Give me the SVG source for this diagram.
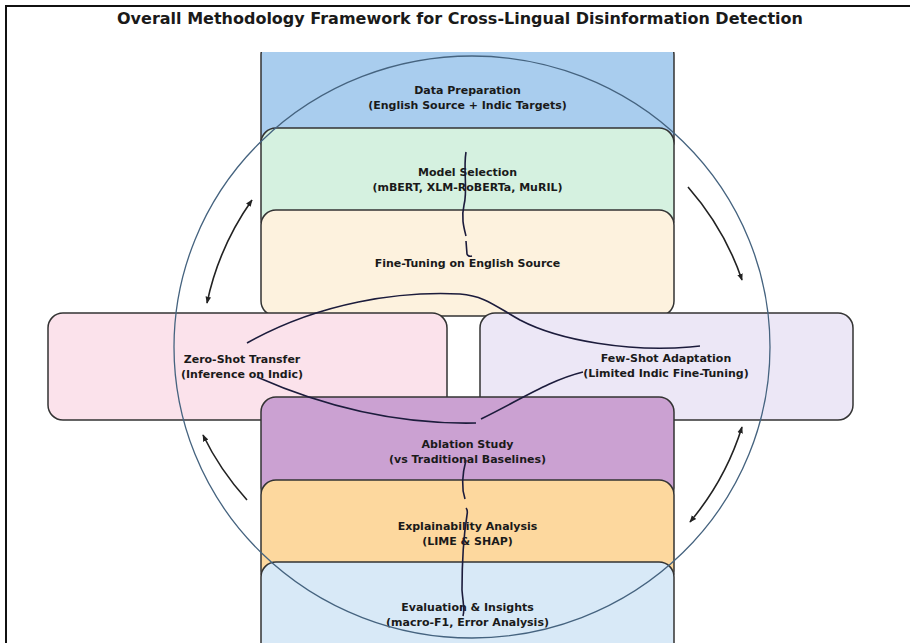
<svg xmlns="http://www.w3.org/2000/svg" width="910" height="643" viewBox="0 0 910 643">
<defs>
<style>
.box{stroke:#333;stroke-width:1.5}
.lbl{font-family:"DejaVu Sans","Liberation Sans",sans-serif;font-weight:bold;font-size:11px;fill:#1a1a1a;text-anchor:middle}
.title{font-family:"DejaVu Sans","Liberation Sans",sans-serif;font-weight:bold;font-size:16px;fill:#1a1a1a;text-anchor:middle}
.con{fill:none;stroke:#1c1c3c;stroke-width:1.6}
.arr{fill:none;stroke:#222;stroke-width:1.6}
</style>
<clipPath id="plot"><rect x="0" y="52" width="910" height="591"/></clipPath>
<marker id="ah" viewBox="0 0 10 10" refX="9" refY="5" markerWidth="7" markerHeight="7" orient="auto-start-reverse" markerUnits="userSpaceOnUse">
<path d="M0,1 L10,5 L0,9 Z" fill="#222"/>
</marker>
</defs>
<rect width="910" height="643" fill="#fff"/>
<path d="M6,643 L6,6 L910,6" fill="none" stroke="#111" stroke-width="2"/>
<text class="title" x="460" y="24">Overall Methodology Framework for Cross-Lingual Disinformation Detection</text>
<g clip-path="url(#plot)">
<g id="data-prep"><rect class="box" x="261" y="40" width="413" height="116" rx="15" fill="#a9cdee"/>
<text class="lbl" x="467.5" y="94">Data Preparation</text><text class="lbl" x="467.5" y="109">(English Source + Indic Targets)</text></g>
<g id="model-selection"><rect class="box" x="261" y="128" width="413" height="106" rx="15" fill="#d5f1e0"/>
<text class="lbl" x="467.5" y="176">Model Selection</text><text class="lbl" x="467.5" y="191">(mBERT, XLM-RoBERTa, MuRIL)</text></g>
<g id="fine-tuning"><rect class="box" x="261" y="210" width="413" height="106" rx="15" fill="#fdf2de"/>
<text class="lbl" x="467.5" y="267">Fine-Tuning on English Source</text></g>
<g id="zero-shot"><rect class="box" x="48" y="313" width="399" height="107" rx="15" fill="#fbe2eb"/>
<text class="lbl" x="242" y="363">Zero-Shot Transfer</text><text class="lbl" x="242" y="378">(Inference on Indic)</text></g>
<g id="few-shot"><rect class="box" x="480" y="313" width="373" height="107" rx="15" fill="#ece7f6"/>
<text class="lbl" x="666" y="362">Few-Shot Adaptation</text><text class="lbl" x="666" y="377">(Limited Indic Fine-Tuning)</text></g>
<g id="ablation"><rect class="box" x="261" y="397" width="413" height="106" rx="15" fill="#cba1d2"/>
<text class="lbl" x="467.5" y="448">Ablation Study</text><text class="lbl" x="467.5" y="463">(vs Traditional Baselines)</text></g>
<g id="explainability"><rect class="box" x="261" y="480" width="413" height="106" rx="15" fill="#fdd89e"/>
<text class="lbl" x="467.5" y="530">Explainability Analysis</text><text class="lbl" x="467.5" y="545">(LIME &amp; SHAP)</text></g>
<g id="evaluation"><rect class="box" x="261" y="562" width="413" height="106" rx="15" fill="#d8e9f7"/>
<text class="lbl" x="467.5" y="611">Evaluation &amp; Insights</text><text class="lbl" x="467.5" y="626">(macro-F1, Error Analysis)</text></g>
<g id="connectors">
<path class="con" d="M466,152 C 463,170 468,190 464,205 C 461,218 464,228 466,236"/>
<path class="con" d="M466,241 L467,254 Q468,257 472,256"/>
<path class="con" d="M247,343 C 320,302 400,291 460,294 C 485,296 495,306 520,320 C 560,341 630,352 690,347 L700,346"/>
<path class="con" d="M257,377 C 300,396 380,425 476,423"/>
<path class="con" d="M481,419 C 520,400 550,380 583,372"/>
<path class="con" d="M466,460 C 462,475 462,490 465,499"/>
<path class="con" d="M466,508 Q468,510 467,515 C 463,540 462,570 462,590 C 463,603 465,610 463,616"/>
</g>
<ellipse cx="472" cy="347" rx="298" ry="291" fill="none" stroke="#45637f" stroke-width="1.3"/>
<g id="cycle-arrows">
<path class="arr" d="M207,303 Q218.7,247.2 252,200" marker-start="url(#ah)" marker-end="url(#ah)"/>
<path class="arr" d="M688,187 Q724.7,229 742,280" marker-end="url(#ah)"/>
<path class="arr" d="M690,522 Q725.6,479.5 742,427" marker-start="url(#ah)" marker-end="url(#ah)"/>
<path class="arr" d="M247,500 Q219.9,470 203,435" marker-end="url(#ah)"/>
</g>
</g>
</svg>
